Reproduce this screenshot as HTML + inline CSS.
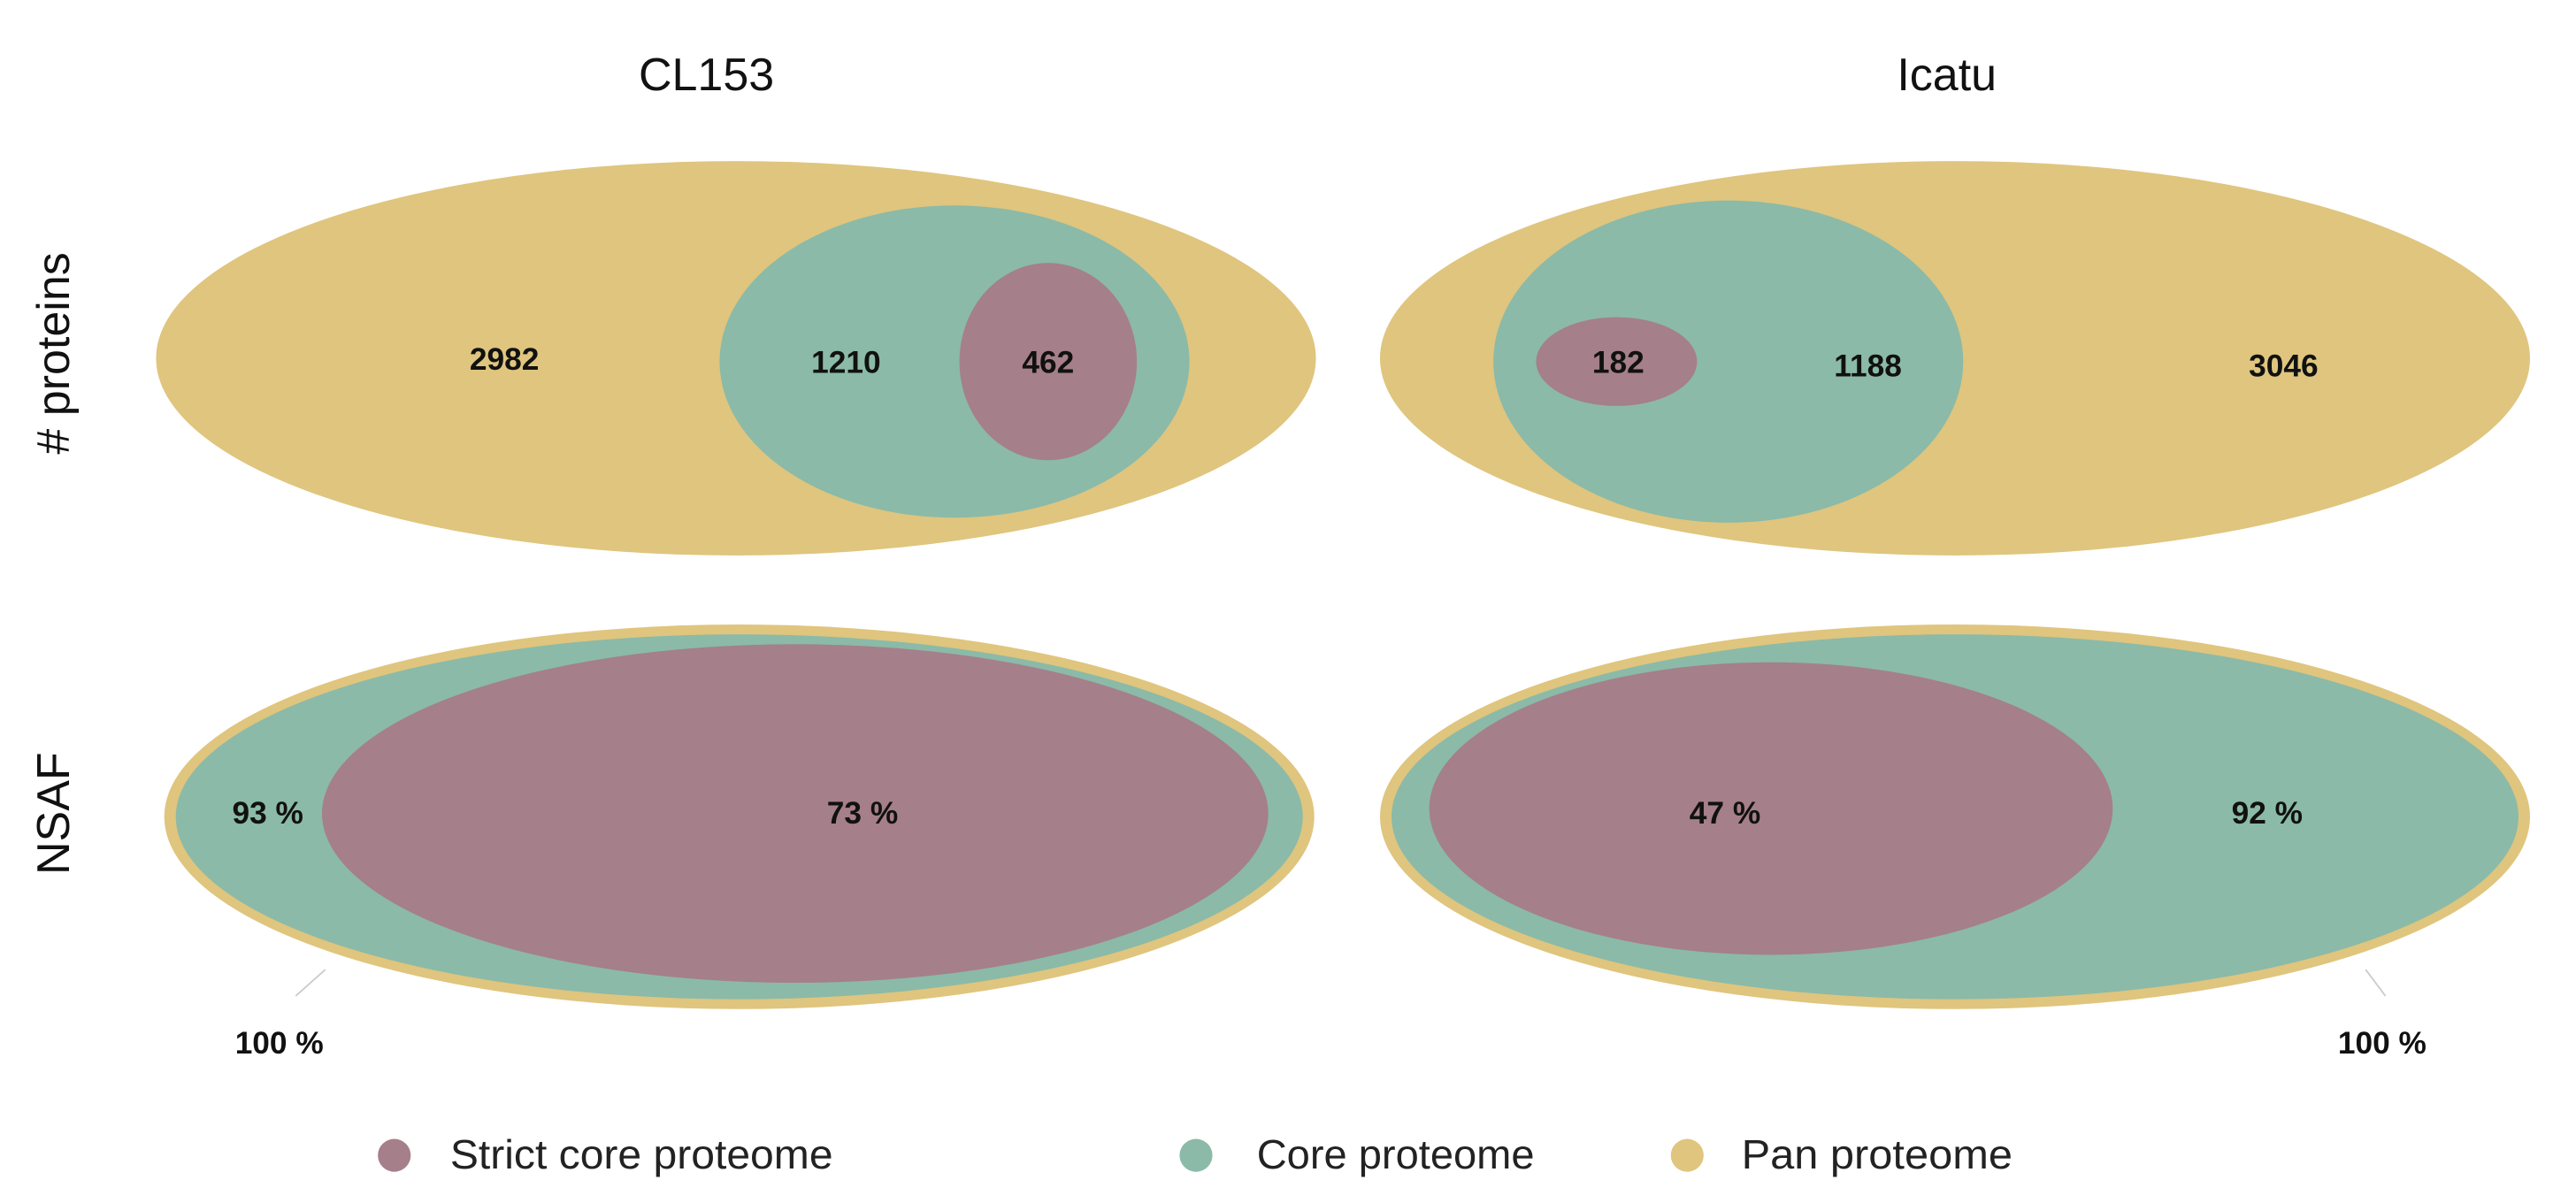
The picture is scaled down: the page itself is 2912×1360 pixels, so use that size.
<!DOCTYPE html>
<html><head><meta charset="utf-8"><style>
html,body{margin:0;padding:0;background:#fff;}
svg{display:block;}
</style></head><body>
<svg width="2912" height="1360" viewBox="0 0 1568 732" preserveAspectRatio="none" xmlns="http://www.w3.org/2000/svg" font-family="Liberation Sans, Arial, sans-serif">
<rect width="1568" height="732" fill="#fff"/>
<text x="430" y="55" font-size="28" text-anchor="middle" fill="#111">CL153</text>
<text x="1185" y="55" font-size="28" text-anchor="middle" fill="#111">Icatu</text>
<text transform="translate(42,215) rotate(-90)" font-size="28" text-anchor="middle" fill="#111"># proteins</text>
<text transform="translate(42,495) rotate(-90)" font-size="28" text-anchor="middle" fill="#111">NSAF</text>

<ellipse cx="448" cy="218" rx="353" ry="120" fill="#dfc57e"/>
<ellipse cx="581" cy="220" rx="143" ry="95" fill="#8bbaa8"/>
<ellipse cx="638" cy="220" rx="54" ry="60" fill="#a57f8a"/>
<ellipse cx="1190" cy="218" rx="350" ry="120" fill="#dfc57e"/>
<ellipse cx="1052" cy="220" rx="143" ry="98" fill="#8bbaa8"/>
<ellipse cx="984" cy="220" rx="49" ry="27" fill="#a57f8a"/>
<ellipse cx="450" cy="497" rx="350" ry="117" fill="#dfc57e"/>
<ellipse cx="450" cy="497" rx="343" ry="111" fill="#8bbaa8"/>
<ellipse cx="484" cy="495" rx="288" ry="103" fill="#a57f8a"/>
<ellipse cx="1190" cy="497" rx="350" ry="117" fill="#dfc57e"/>
<ellipse cx="1190" cy="497" rx="343" ry="111" fill="#8bbaa8"/>
<ellipse cx="1078" cy="492" rx="208" ry="89" fill="#a57f8a"/>

<g font-size="19" font-weight="bold" text-anchor="middle" fill="#111">
<text x="307" y="225">2982</text>
<text x="515" y="227">1210</text>
<text x="638" y="227">462</text>
<text x="985" y="227">182</text>
<text x="1137" y="229">1188</text>
<text x="1390" y="229">3046</text>
<text x="163" y="501">93 %</text>
<text x="525" y="501">73 %</text>
<text x="1050" y="501">47 %</text>
<text x="1380" y="501">92 %</text>
<text x="170" y="641">100 %</text>
<text x="1450" y="641">100 %</text>
</g>
<line x1="180" y1="606" x2="198" y2="590" stroke="#ccc" stroke-width="1"/>
<line x1="1452" y1="606" x2="1440" y2="590" stroke="#ccc" stroke-width="1"/>

<circle cx="240" cy="703" r="10" fill="#a57f8a"/>
<text x="274" y="711" font-size="25" fill="#222" textLength="233" lengthAdjust="spacingAndGlyphs">Strict core proteome</text>
<circle cx="728" cy="703" r="10" fill="#8bbaa8"/>
<text x="765" y="711" font-size="25" fill="#222" textLength="169" lengthAdjust="spacingAndGlyphs">Core proteome</text>
<circle cx="1027" cy="703" r="10" fill="#dfc57e"/>
<text x="1060" y="711" font-size="25" fill="#222" textLength="165" lengthAdjust="spacingAndGlyphs">Pan proteome</text>
</svg>
</body></html>
